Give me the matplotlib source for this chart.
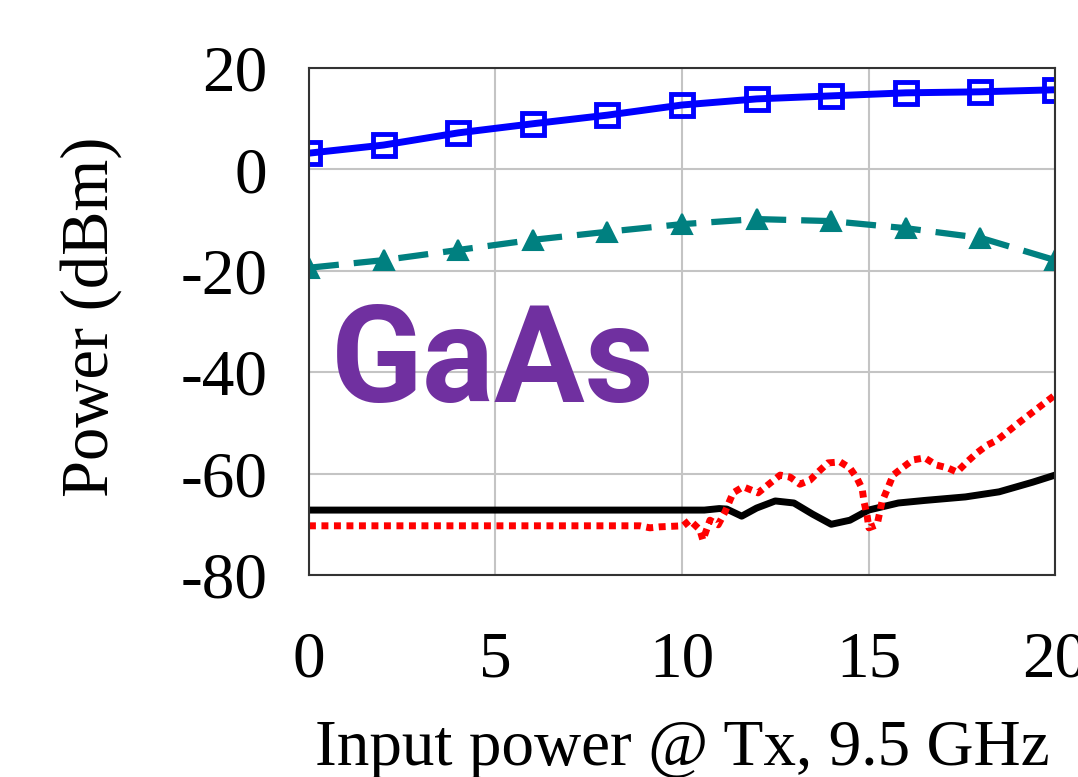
import matplotlib
matplotlib.use("Agg")
import matplotlib.pyplot as plt

# fundamental output (blue squares)
fund_x = [0, 2, 4, 6, 8, 10, 12, 14, 16, 18, 20]
fund_y = [3.2, 4.8, 7.2, 9.0, 10.7, 12.7, 13.9, 14.5, 15.1, 15.3, 15.7]

# harmonic (teal dashed triangles)
harm_x = [0, 2, 4, 6, 8, 10, 12, 14, 16, 18, 20]
harm_y = [-19.4, -17.9, -15.9, -13.9, -12.3, -10.8, -9.8, -10.2, -11.6, -13.5, -17.9]

# black solid
blk_x = [0, 10.6, 11.0, 11.2, 11.6, 12.0, 12.5, 13.0, 13.5, 14.0, 14.5, 15.0,
         15.8, 16.5, 17.6, 18.5, 19.4, 20]
blk_y = [-67.2, -67.2, -66.9, -67.0, -68.4, -66.8, -65.4, -65.8, -68.0, -70.0,
         -69.2, -67.2, -65.8, -65.3, -64.6, -63.6, -61.7, -60.3]

# red dotted
red_x = [0, 8.87, 9.14, 9.41, 10.03, 10.21, 10.48, 10.56, 10.75, 10.97, 11.15,
         11.37, 11.64, 12.04, 12.36, 12.63, 12.90, 13.16, 13.43, 13.65, 13.91,
         14.24, 14.50, 14.69, 14.83, 14.88, 14.96, 15.01, 15.23, 15.36, 15.52,
         15.66, 15.90, 16.19, 16.51, 16.81, 17.13, 17.37, 17.64, 17.91, 18.18,
         18.45, 19.06, 20]
red_y = [-70.3, -70.3, -70.7, -70.5, -70.3, -69.2, -71.1, -73.1, -69.2, -70.1,
         -67.6, -63.8, -62.6, -63.8, -61.9, -60.3, -60.7, -62.1, -61.3, -59.7,
         -57.9, -57.7, -58.9, -60.9, -63.0, -65.6, -68.2, -70.7, -70.1, -65.6,
         -62.8, -60.3, -58.9, -57.3, -56.9, -58.3, -58.9, -59.7, -57.7, -55.9,
         -54.4, -53.4, -49.8, -44.5]

xticks = [0, 5, 10, 15, 20]
xtick_labels = ["0", "5", "10", "15", "20"]
yticks = [-80, -60, -40, -20, 0, 20]
ytick_labels = ["-80", "-60", "-40", "-20", "0", "20"]

serif = ["Liberation Serif", "DejaVu Serif"]

fig = plt.figure(figsize=(10.78, 7.77), dpi=100)
ax = fig.add_axes([0.2866, 0.2600, 0.6921, 0.6525])

ax.grid(True, color="#c4c4c4", linewidth=1.5)
ax.set_axisbelow(True)

ax.plot(blk_x, blk_y, color="black", linewidth=5, solid_capstyle="butt")
ax.plot(red_x, red_y, color="red", linewidth=5, linestyle=(0, (1, 0.8)),
        dash_capstyle="butt")
ax.plot(harm_x, harm_y, color="#008080", linewidth=4.5, linestyle=(0, (4.8, 2.4)),
        dash_capstyle="butt", marker="^", markersize=15,
        markerfacecolor="#008080", markeredgecolor="#008080", markeredgewidth=1.5)
ax.plot(fund_x, fund_y, color="blue", linewidth=5, marker="s",
        markersize=16, markerfacecolor="none", markeredgecolor="blue",
        markeredgewidth=3.5)

ax.set_xlim(0, 20)
ax.set_ylim(-80, 20)
ax.set_xticks(xticks)
ax.set_xticklabels(xtick_labels, fontfamily=serif, fontsize=47)
ax.set_yticks(yticks)
ax.set_yticklabels(ytick_labels, fontfamily=serif, fontsize=47)
ax.tick_params(axis="x", length=0, pad=40)
ax.tick_params(axis="y", length=0, pad=30)
for s in ax.spines.values():
    s.set_color("#333333")
    s.set_linewidth(1.5)

fig.text(0.633, 0.0154, "Input power @ Tx, 9.5 GHz", ha="center",
         va="baseline", fontfamily=serif, fontsize=47)
fig.text(0.084, 0.592, "Power (dBm)", ha="center", va="center",
         rotation=90, fontfamily=serif, fontsize=48)

ax.text(0.029, 0.415, "GaAs", transform=ax.transAxes, color="#7030a0",
        fontfamily="Roboto", fontweight="bold", fontsize=97,
        ha="left", va="center")

fig.savefig("out.png", dpi=100)
